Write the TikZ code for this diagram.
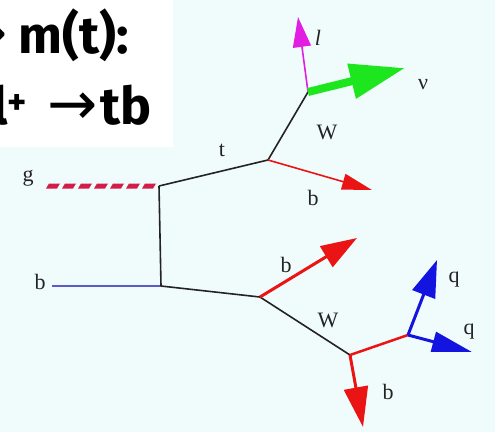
\documentclass[tikz,border=0pt]{standalone}
\usepackage{fontspec}
\setmainfont{Liberation Serif}
\newfontfamily\headfont{Fira Sans}
\newfontfamily\arrowfont{DejaVu Sans}
\usetikzlibrary{arrows.meta,calc}
\definecolor{bgcyan}{RGB}{240,252,252}
\definecolor{gluon}{RGB}{210,30,75}
\definecolor{bred}{RGB}{235,20,20}
\definecolor{qblue}{RGB}{20,20,225}
\definecolor{lblue}{RGB}{90,90,200}
\definecolor{lpink}{RGB}{225,30,225}
\definecolor{nugreen}{RGB}{30,230,30}
\definecolor{ink}{RGB}{35,35,35}
\tikzset{
  lbl/.style={font=\fontsize{22}{22}\selectfont, text=ink, inner sep=0pt},
  prop/.style={draw=ink, line width=1.6pt},
  head/.style={font=\headfont\bfseries\fontsize{52}{52}\selectfont, inner sep=0pt, text=black},
}
\newcommand{\bigarrow}{{\arrowfont\mdseries\fontsize{60}{60}\selectfont →}}
\begin{document}
\begin{tikzpicture}[x=1pt,y=-1pt]
\useasboundingbox (0,0) rectangle (495,432);
\fill[bgcyan] (0,0) rectangle (495,432);
\fill[white] (0,0) rectangle (173,147);
\begin{scope}
\clip (0,0) rectangle (173,147);
\node[head, anchor=base east] (h1) at (129,53) {\bigarrow\kern11pt m(t):};
\node[head, anchor=base east] (h2) at (152,124) {l\textsuperscript{+}\kern20pt\bigarrow\kern3pt tb};
\end{scope}
% vertices
\coordinate (gin) at (46,186);
\coordinate (bin) at (52,286);
\coordinate (A) at (159,186);
\coordinate (B) at (161,286);
\coordinate (T) at (268,160);
\coordinate (Wp) at (308,92);
\coordinate (V) at (260,297);
\coordinate (Wm) at (350,355);
\coordinate (Q) at (408,335);
\coordinate (lt) at (298,17);
\coordinate (nut) at (405,68);
\coordinate (b1t) at (372,190);
\coordinate (b2t) at (357,238);
\coordinate (b3t) at (363,427);
\coordinate (q1t) at (437,260);
\coordinate (q2t) at (472,352);
% incoming lines
\foreach \i in {0,...,6}{
  \fill[gluon] ($(gin)+(\i*16+3,-2.5)$) -- ++(11,0) -- ++(-3,5) -- ++(-11,0) -- cycle;
}
\draw[lblue, line width=1.6pt] (bin) -- (B);
% propagators
\draw[prop] (A) -- (B);
\draw[prop] (A) -- (T);
\draw[prop] (B) -- (V);
\draw[prop] (T) -- (Wp);
\draw[prop] (V) -- (Wm);
\draw[bred, line width=2.5pt] (Wm) -- (Q);
% outgoing particles
\draw[lpink, line width=1.6pt, -{Triangle[length=30pt,width=18pt]}] (Wp) -- (lt);
\draw[nugreen, line width=8pt, -{Triangle[length=55pt,width=34pt]}] (Wp) -- (nut);
\draw[bred, line width=1.6pt, -{Triangle[length=30pt,width=16pt]}] (T) -- (b1t);
\draw[bred, line width=3pt, -{Triangle[length=36pt,width=24pt]}] (V) -- (b2t);
\draw[bred, line width=3pt, -{Triangle[length=40pt,width=24pt]}] (Wm) -- (b3t);
\draw[qblue, line width=3pt, -{Triangle[length=37pt,width=24pt]}] (Q) -- (q1t);
\draw[qblue, line width=3pt, -{Triangle[length=40pt,width=20pt]}] (Q) -- (q2t);
% labels
\node[lbl] (lg) at (28,178) {g};
\node[lbl] (lb0) at (40,282) {b};
\node[lbl] (lt0) at (222,150) {t};
\node[lbl] (lW1) at (327,132) {W};
\node[lbl] (ll) at (318,38) {\itshape l};
\node[lbl] (lnu) at (423,85) {ν};
\node[lbl] (lb1) at (313,198) {b};
\node[lbl] (lb2) at (286,265) {b};
\node[lbl] (lW2) at (328,320) {W};
\node[lbl] (lq1) at (454,280) {q};
\node[lbl] (lq2) at (469,332) {q};
\node[lbl] (lb3) at (388,392) {b};
\end{tikzpicture}
\end{document}
